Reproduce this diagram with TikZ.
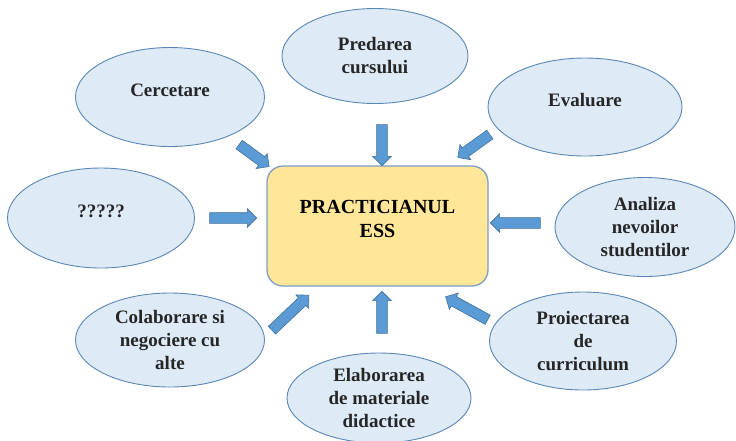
\documentclass[tikz,border=0pt]{standalone}
\usepackage{fontspec}
\setmainfont{Liberation Serif}
\usetikzlibrary{shapes.geometric,shapes.arrows,calc}
\definecolor{ellfill}{HTML}{DEEBF7}
\definecolor{elldraw}{HTML}{5A86B8}
\definecolor{boxfill}{HTML}{FFE699}
\definecolor{boxdraw}{HTML}{7F9CC4}
\definecolor{arrfill}{HTML}{5B9BD5}
\definecolor{arrdraw}{HTML}{41719C}
\tikzset{
  bubble/.style={ellipse, draw=elldraw, line width=0.9pt, fill=ellfill, inner sep=0pt,
    align=center, font=\fontsize{19}{23}\selectfont\bfseries, text=black!85},
  raised/.style={text depth=14pt},
  centerbox/.style={rectangle, rounded corners=16pt, draw=boxdraw, line width=1.3pt, fill=boxfill,
    minimum width=221pt, minimum height=120pt, align=center,
    font=\fontsize{20}{24}\selectfont\bfseries},
  blockarrow/.style={single arrow, draw=arrdraw, line width=0.6pt, fill=arrfill, inner sep=0pt,
    text height=10pt, text depth=0pt, text width=0pt,
    minimum width=18pt, single arrow head extend=4pt, single arrow tip angle=90, outer sep=0pt}
}
\newcommand\blockarr[3]{\path let \p1=(#2), \p2=(#3), \n1={atan2(\y2-\y1,\x2-\x1)}, \n2={veclen(\x2-\x1,\y2-\y1)} in node[blockarrow, minimum height=\n2, rotate=\n1] (#1) at ($(#2)!0.5!(#3)$) {};}
\begin{document}
\begin{tikzpicture}[x=1pt,y=-1pt]
\useasboundingbox (0,0) rectangle (736,440);
\node[centerbox, text depth=14pt] (c) at (377.5,226) {PRACTICIANUL\\ESS};
\node[bubble, raised, minimum width=189pt, minimum height=99pt] (cerc) at (170,97) {Cercetare};
\node[bubble, minimum width=186pt, minimum height=95pt] (pred) at (375,56) {Predarea\\cursului};
\node[bubble, raised, minimum width=194pt, minimum height=98pt] (eval) at (585,107) {Evaluare};
\node[bubble, raised, minimum width=187pt, minimum height=100pt] (unk) at (101,218) {?????};
\node[bubble, minimum width=180pt, minimum height=99pt] (anal) at (645,227) {Analiza\\nevoilor\\studentilor};
\node[bubble, minimum width=189pt, minimum height=94pt] (colab) at (170,340) {Colaborare si\\negociere cu\\alte};
\node[bubble, minimum width=184pt, minimum height=90pt] (elab) at (379,398) {Elaborarea\\de materiale\\didactice};
\node[bubble, minimum width=187pt, minimum height=98pt] (proi) at (583,341) {Proiectarea\\de\\curriculum};
\coordinate (s1) at (237,143); \coordinate (e1) at (267,165);
\coordinate (s2) at (382,122); \coordinate (e2) at (382,163);
\coordinate (s3) at (492,133); \coordinate (e3) at (460,156);
\coordinate (s4) at (207,218); \coordinate (e4) at (254,218);
\coordinate (s5) at (543,223); \coordinate (e5) at (493,223);
\coordinate (s6) at (270,332); \coordinate (e6) at (307,297);
\coordinate (s7) at (382,336); \coordinate (e7) at (382,294);
\coordinate (s8) at (490,321); \coordinate (e8) at (448,298);
\blockarr{a1}{s1}{e1}
\blockarr{a2}{s2}{e2}
\blockarr{a3}{s3}{e3}
\blockarr{a4}{s4}{e4}
\blockarr{a5}{s5}{e5}
\blockarr{a6}{s6}{e6}
\blockarr{a7}{s7}{e7}
\blockarr{a8}{s8}{e8}
\end{tikzpicture}
\end{document}
